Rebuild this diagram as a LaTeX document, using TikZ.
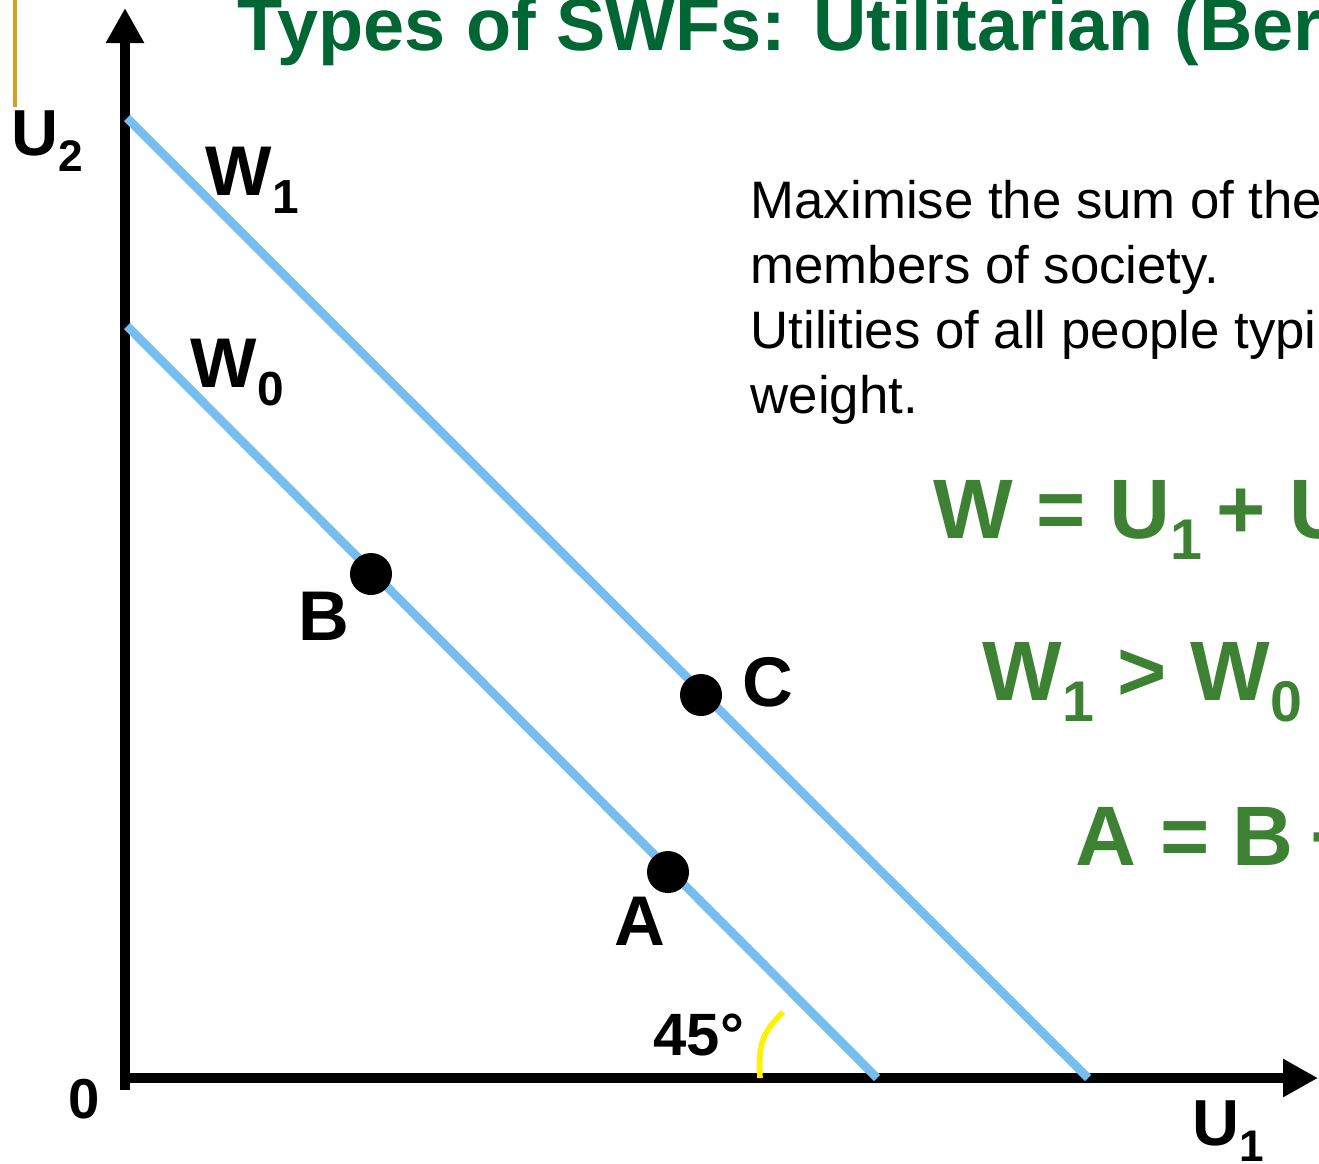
\documentclass[tikz,border=0pt]{standalone}
\usepackage{fontspec}
\setmainfont{Liberation Sans}
\usetikzlibrary{arrows.meta,positioning}
\definecolor{SkyBlue}{HTML}{75BEEF}
\definecolor{DarkGreen}{HTML}{006633}
\definecolor{LeafGreen}{HTML}{3D8232}
\definecolor{Gold}{HTML}{D4A020}
\newcommand{\lowsub}[1]{\raisebox{-0.26em}{\scalebox{0.68}{#1}}}

\begin{document}
\begin{tikzpicture}[x=0.01cm,y=-0.01cm,
    lbl/.style={anchor=base west,inner sep=0pt,font=\fontsize{20}{24}\bfseries\selectfont},
    para/.style={anchor=base west,inner sep=0pt,font=\fontsize{15}{18.5}\selectfont},
    eqn/.style={anchor=base west,inner sep=0pt,text=LeafGreen,font=\fontsize{24}{28}\bfseries\selectfont},
    dot/.style={circle,fill=black,inner sep=0pt,minimum size=0.42cm},
    axis/.style={line width=2.85pt,-{Triangle[length=0.35cm,width=0.36cm]}},
    wline/.style={SkyBlue,line width=2.5pt}]
    \useasboundingbox (0,0) rectangle (1319,1163);
    \clip (0,0) rectangle (1319,1163);
    % title and notes
    \node[anchor=base west,inner sep=0pt,text=DarkGreen,font=\fontsize{21}{24}\bfseries\selectfont]
      (title) at (237,50) {Types of SWFs: Utilitarian (Ber};
    \foreach \txt [count=\i from 0] in {Maximise the sum of the,members of society.,Utilities of all people typi,weight.}
      \node[para] (line\i) at (750,218+65*\i) {\txt};
    \node[eqn] (sum) at (933,538) {W = U\lowsub{1}\,+ U};
    \node[eqn] (rank) at (982,700) {W\lowsub{1} > W\lowsub{0}};
    \node[eqn] (eq) at (1075,865) {A = B\hspace{0.2em}+};
    % axes
    \draw[Gold,line width=1pt] (15,0) -- (15,107);
    \coordinate (orig) at (125,1078);
    \coordinate (ytop) at (125,8);
    \coordinate (xend) at (1318,1078);
    \draw[axis] (125,1090) -- (ytop);
    \draw[axis] (120,1078) -- (xend);
    % welfare lines
    \coordinate (w1a) at (127,118);
    \coordinate (w1b) at (1088,1078);
    \coordinate (w0a) at (127,326);
    \coordinate (w0b) at (877,1078);
    \draw[wline] (w1a) -- (w1b);
    \draw[wline] (w0a) -- (w0b);
    % 45 degree mark
    \coordinate (arcs) at (760,1078);
    \coordinate (arce) at (783,1012);
    \draw[yellow,line width=1.6pt] (arcs) .. controls (758,1040) and (764,1032) .. (arce);
    % points
    \node[dot] (B) at (371,574) {};
    \node[dot] (C) at (701,695) {};
    \node[dot] (A) at (668,872) {};
    % labels
    \node[lbl] (labB) at (298,640) {B};
    \node[lbl] (labC) at (742,706) {C};
    \node[lbl] (labA) at (614,945) {A};
    \node[lbl] (labW1) at (205,195) {W\lowsub{1}};
    \node[lbl] (labW0) at (190,387) {W\lowsub{0}};
    \node[lbl,font=\fontsize{18.5}{22}\bfseries\selectfont] (labU2) at (11,155) {U\lowsub{2}};
    \node[lbl,font=\fontsize{18.5}{22}\bfseries\selectfont] (labU1) at (1192,1145) {U\lowsub{1}};
    \node[lbl,font=\fontsize{17}{20}\bfseries\selectfont] (deg) at (653,1055) {45°};
    \node[lbl,font=\fontsize{16}{19}\bfseries\selectfont] (zero) at (68,1118) {0};
\end{tikzpicture}
\end{document}
